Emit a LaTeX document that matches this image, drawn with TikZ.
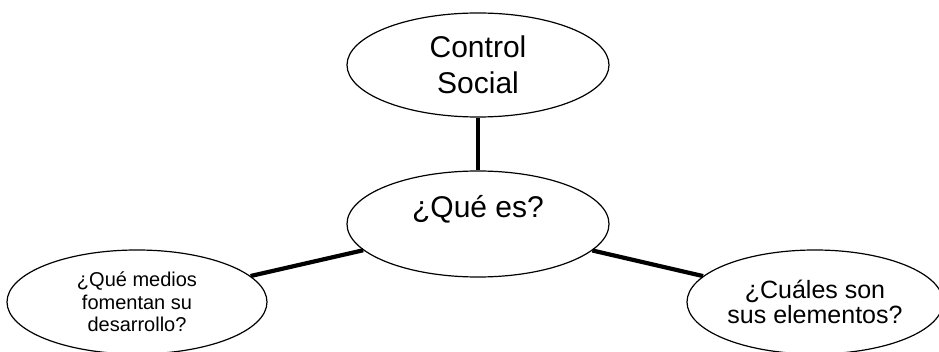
\documentclass[tikz,border=0pt]{standalone}
\usepackage{fontspec}
\setmainfont{Liberation Sans}
\usetikzlibrary{shapes.geometric}

\begin{document}
\begin{tikzpicture}[x=1pt,y=-1pt,
    idea/.style={draw, ellipse, line width=1.2pt, inner sep=0pt, align=center},
    link/.style={line width=4.2pt}]
     \useasboundingbox (0,0) rectangle (939,352); % page size, same as the picture
     \node [idea, minimum width=262pt, minimum height=104pt, font=\fontsize{30}{36}\selectfont] (social) at (478,65) {Control\\Social};
     \node [idea, minimum width=262pt, minimum height=106pt, font=\fontsize{30}{36}\selectfont, text height=22pt, text depth=34pt] (quees) at (478,224) {¿Qué es?}; % depth pushes the text up a bit
     \node [idea, minimum width=260pt, minimum height=104pt, font=\fontsize{20}{22.5}\selectfont] (medios) at (137,302) {¿Qué medios\\fomentan su\\desarrollo?};
     \node [idea, minimum width=256pt, minimum height=104pt, font=\fontsize{25}{25.5}\selectfont] (elementos) at (815,302) {¿Cuáles son\\sus elementos?};
     \draw [link] (social) -- (quees); % the three thick links, centre to each bubble
     \draw [link] (quees) -- (medios);
     \draw [link] (quees) -- (elementos);
  \end{tikzpicture}
\end{document}
